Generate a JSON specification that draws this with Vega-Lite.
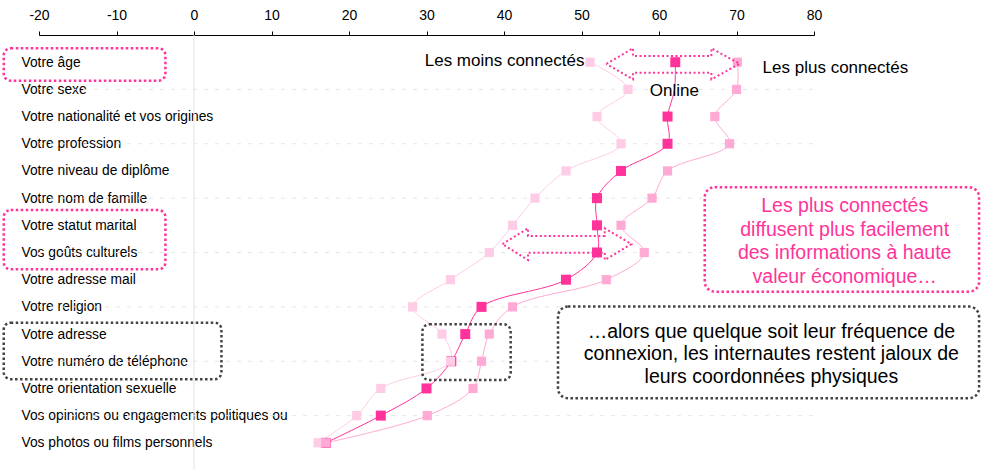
{
  "$schema": "https://vega.github.io/schema/vega-lite/v6.json",
  "width": 775,
  "height": 435,
  "autosize": {"type": "none"},
  "padding": {"left": 39, "top": 35, "right": 167, "bottom": 0},
  "background": "white",
  "config": {"font": "Liberation Sans", "view": {"stroke": null}},
  "datasets": {
    "rows": [
      {"item": "Votre âge", "moins": 51.1, "online": 62.1, "plus": 70.1},
      {"item": "Votre sexe", "moins": 56.0, "online": 62.0, "plus": 70.0},
      {"item": "Votre nationalité et vos origines", "moins": 52.0, "online": 61.1, "plus": 67.2},
      {"item": "Votre profession", "moins": 55.1, "online": 61.1, "plus": 69.1},
      {"item": "Votre niveau de diplôme", "moins": 48.0, "online": 55.1, "plus": 61.1},
      {"item": "Votre nom de famille", "moins": 44.0, "online": 52.0, "plus": 59.1},
      {"item": "Votre statut marital", "moins": 41.1, "online": 52.0, "plus": 55.1},
      {"item": "Vos goûts culturels", "moins": 38.1, "online": 52.0, "plus": 58.1},
      {"item": "Votre adresse mail", "moins": 33.1, "online": 48.0, "plus": 53.2},
      {"item": "Votre religion", "moins": 28.2, "online": 37.1, "plus": 41.1},
      {"item": "Votre adresse", "moins": 32.0, "online": 35.0, "plus": 38.1},
      {"item": "Votre numéro de téléphone", "moins": 33.1, "online": 33.2, "plus": 37.1},
      {"item": "Votre orientation sexuelle", "moins": 24.1, "online": 30.0, "plus": 36.0},
      {"item": "Vos opinions ou engagements politiques ou", "moins": 21.0, "online": 24.1, "plus": 30.1},
      {"item": "Vos photos ou films personnels", "moins": 16.0, "online": 17.0, "plus": 17.0}
    ],
    "arrows": [
      {"a": "A", "k": 0, "x": 53.21, "y": 1.06},
      {"a": "A", "k": 1, "x": 56.65, "y": 0.489},
      {"a": "A", "k": 2, "x": 56.65, "y": 0.772},
      {"a": "A", "k": 3, "x": 66.76, "y": 0.772},
      {"a": "A", "k": 4, "x": 66.76, "y": 0.489},
      {"a": "A", "k": 5, "x": 70.41, "y": 1.06},
      {"a": "A", "k": 6, "x": 66.76, "y": 1.629},
      {"a": "A", "k": 7, "x": 66.76, "y": 1.387},
      {"a": "A", "k": 8, "x": 56.65, "y": 1.387},
      {"a": "A", "k": 9, "x": 56.65, "y": 1.629},
      {"a": "A", "k": 10, "x": 53.21, "y": 1.06},
      {"a": "B", "k": 0, "x": 39.79, "y": 7.69},
      {"a": "B", "k": 1, "x": 43.1, "y": 7.11},
      {"a": "B", "k": 2, "x": 43.1, "y": 7.39},
      {"a": "B", "k": 3, "x": 53.0, "y": 7.39},
      {"a": "B", "k": 4, "x": 53.0, "y": 7.11},
      {"a": "B", "k": 5, "x": 56.44, "y": 7.69},
      {"a": "B", "k": 6, "x": 53.0, "y": 8.275},
      {"a": "B", "k": 7, "x": 53.0, "y": 8.006},
      {"a": "B", "k": 8, "x": 43.1, "y": 8.006},
      {"a": "B", "k": 9, "x": 43.1, "y": 8.275},
      {"a": "B", "k": 10, "x": 39.79, "y": 7.69}
    ]
  },
  "layer": [
    {
      "data": {"name": "rows"},
      "layer": [
        {
          "data": {"values": [{"v": 0}]},
          "mark": {"type": "rule", "color": "#e4e4e4", "strokeWidth": 1},
          "encoding": {
            "x": {"field": "v", "type": "quantitative", "title": null, "scale": {"domain": [-20, 80], "nice": false, "zero": false}}
          }
        },
        {
          "transform": [{"filter": {"field": "item", "oneOf": ["Votre sexe", "Votre profession", "Votre nom de famille", "Vos goûts culturels", "Votre religion", "Votre numéro de téléphone", "Vos opinions ou engagements politiques ou"]}}],
          "mark": {"type": "rule", "color": "#e6e6e6", "strokeWidth": 1, "strokeDash": [4, 7]},
          "encoding": {
            "y": {"field": "item", "type": "nominal"},
            "x": {"datum": -20, "type": "quantitative", "title": null},
            "x2": {"datum": 80}
          }
        },
        {
          "mark": {"type": "line", "color": "#ffcde6", "strokeWidth": 1, "interpolate": "catmull-rom"},
          "encoding": {
            "x": {
              "field": "moins", "type": "quantitative", "title": null,
              "scale": {"domain": [-20, 80], "nice": false, "zero": false},
              "axis": {"orient": "top", "values": [-20, -10, 0, 10, 20, 30, 40, 50, 60, 70, 80], "labelExpr": "'' + datum.value", "grid": false, "domainColor": "#000", "tickColor": "#000", "tickSize": 4, "labelFontSize": 14, "labelColor": "#000", "labelPadding": 9, "labelFlush": false, "labelOverlap": false}
            },
            "y": {
              "field": "item", "type": "nominal",
              "scale": {"type": "point", "padding": 1, "domain": ["Votre âge", "Votre sexe", "Votre nationalité et vos origines", "Votre profession", "Votre niveau de diplôme", "Votre nom de famille", "Votre statut marital", "Vos goûts culturels", "Votre adresse mail", "Votre religion", "Votre adresse", "Votre numéro de téléphone", "Votre orientation sexuelle", "Vos opinions ou engagements politiques ou", "Vos photos ou films personnels"]},
              "axis": {"title": null, "labelAlign": "left", "labelPadding": 18, "ticks": false, "tickSize": 0, "domain": false, "grid": false, "labelFontSize": 13.8, "labelColor": "#000", "labelLimit": 400, "labelBaseline": "middle"}
            },
            "order": {"value": null}
          }
        },
        {
          "mark": {"type": "line", "color": "#ffaad4", "strokeWidth": 1, "interpolate": "catmull-rom"},
          "encoding": {
            "x": {"field": "plus", "type": "quantitative", "title": null},
            "y": {"field": "item", "type": "nominal"},
            "order": {"value": null}
          }
        },
        {
          "mark": {"type": "line", "color": "#ff3399", "strokeWidth": 1, "interpolate": "catmull-rom"},
          "encoding": {
            "x": {"field": "online", "type": "quantitative", "title": null},
            "y": {"field": "item", "type": "nominal"},
            "order": {"value": null}
          }
        },
        {
          "transform": [{"filter": "datum.item !== 'Votre sexe'"}],
          "mark": {"type": "point", "shape": "square", "filled": true, "opacity": 1, "color": "#ff3399", "size": 100},
          "encoding": {
            "x": {"field": "online", "type": "quantitative", "title": null},
            "y": {"field": "item", "type": "nominal"}
          }
        },
        {
          "mark": {"type": "point", "shape": "square", "filled": true, "opacity": 1, "color": "#ffcce6", "size": 85},
          "encoding": {
            "x": {"field": "moins", "type": "quantitative", "title": null},
            "y": {"field": "item", "type": "nominal"}
          }
        },
        {
          "mark": {"type": "point", "shape": "square", "filled": true, "opacity": 1, "color": "#ffaad4", "size": 85},
          "encoding": {
            "x": {"field": "plus", "type": "quantitative", "title": null},
            "y": {"field": "item", "type": "nominal"}
          }
        }
      ]
    },
    {
      "layer": [
        {
          "data": {"name": "arrows"},
          "mark": {"type": "line", "color": "#ff3399", "strokeWidth": 2, "strokeDash": [2, 2.5], "interpolate": "linear"},
          "encoding": {
            "x": {"field": "x", "type": "quantitative", "title": null},
            "y": {"field": "y", "type": "quantitative", "axis": null, "scale": {"domain": [0, 16], "reverse": true, "nice": false, "zero": false}},
            "detail": {"field": "a"},
            "order": {"field": "k"}
          }
        },
        {
          "data": {"values": [
            {"x": -24.55, "x2": -3.69, "y": 0.489, "y2": 1.68},
            {"x": -24.55, "x2": -3.69, "y": 6.44, "y2": 8.62}
          ]},
          "mark": {"type": "rect", "filled": false, "stroke": "#ff3399", "strokeWidth": 2.5, "strokeDash": [2.5, 2.5], "cornerRadius": 7},
          "encoding": {
            "x": {"field": "x", "type": "quantitative", "title": null},
            "x2": {"field": "x2"},
            "y": {"field": "y", "type": "quantitative", "axis": null},
            "y2": {"field": "y2"}
          }
        },
        {
          "data": {"values": [
            {"x": -24.55, "x2": 3.54, "y": 10.58, "y2": 12.66},
            {"x": 29.47, "x2": 40.86, "y": 10.64, "y2": 12.69}
          ]},
          "mark": {"type": "rect", "filled": false, "stroke": "#444444", "strokeWidth": 2.5, "strokeDash": [2.5, 2.5], "cornerRadius": 7},
          "encoding": {
            "x": {"field": "x", "type": "quantitative", "title": null},
            "x2": {"field": "x2"},
            "y": {"field": "y", "type": "quantitative", "axis": null},
            "y2": {"field": "y2"}
          }
        },
        {
          "data": {"values": [{"x": 65.9, "x2": 101.3, "y": 5.6, "y2": 9.44}]},
          "mark": {"type": "rect", "fill": "white", "stroke": "#ff3399", "strokeWidth": 2.5, "strokeDash": [2.5, 2.5], "cornerRadius": 10},
          "encoding": {
            "x": {"field": "x", "type": "quantitative", "title": null},
            "x2": {"field": "x2"},
            "y": {"field": "y", "type": "quantitative", "axis": null},
            "y2": {"field": "y2"}
          }
        },
        {
          "data": {"values": [{"x": 46.97, "x2": 101.3, "y": 9.99, "y2": 13.36}]},
          "mark": {"type": "rect", "fill": "white", "stroke": "#444444", "strokeWidth": 2.5, "strokeDash": [2.5, 2.5], "cornerRadius": 10},
          "encoding": {
            "x": {"field": "x", "type": "quantitative", "title": null},
            "x2": {"field": "x2"},
            "y": {"field": "y", "type": "quantitative", "axis": null},
            "y2": {"field": "y2"}
          }
        },
        {
          "data": {"values": [
            {"t": "Les moins connectés", "x": 29.77, "y": 0.945},
            {"t": "Les plus connectés", "x": 73.37, "y": 1.21},
            {"t": "Online", "x": 58.8, "y": 2.05}
          ]},
          "mark": {"type": "text", "align": "left", "baseline": "middle", "fontSize": 17, "color": "#000"},
          "encoding": {
            "x": {"field": "x", "type": "quantitative", "title": null},
            "y": {"field": "y", "type": "quantitative", "axis": null},
            "text": {"field": "t"}
          }
        },
        {
          "data": {"values": [{"t": "Les plus connectés\ndiffusent plus facilement\ndes informations à haute\nvaleur économique…", "x": 83.96, "y": 6.29}]},
          "mark": {"type": "text", "align": "center", "baseline": "middle", "fontSize": 19.5, "lineHeight": 23.5, "lineBreak": "\n", "color": "#ff3399"},
          "encoding": {
            "x": {"field": "x", "type": "quantitative", "title": null},
            "y": {"field": "y", "type": "quantitative", "axis": null},
            "text": {"field": "t"}
          }
        },
        {
          "data": {"values": [{"t": "…alors que quelque soit leur fréquence de\nconnexion, les internautes restent jaloux de\nleurs coordonnées physiques", "x": 74.5, "y": 10.91}]},
          "mark": {"type": "text", "align": "center", "baseline": "middle", "fontSize": 19.5, "lineHeight": 22.7, "lineBreak": "\n", "color": "#000"},
          "encoding": {
            "x": {"field": "x", "type": "quantitative", "title": null},
            "y": {"field": "y", "type": "quantitative", "axis": null},
            "text": {"field": "t"}
          }
        }
      ]
    }
  ],
  "resolve": {"scale": {"y": "independent"}, "axis": {"y": "independent"}}
}
